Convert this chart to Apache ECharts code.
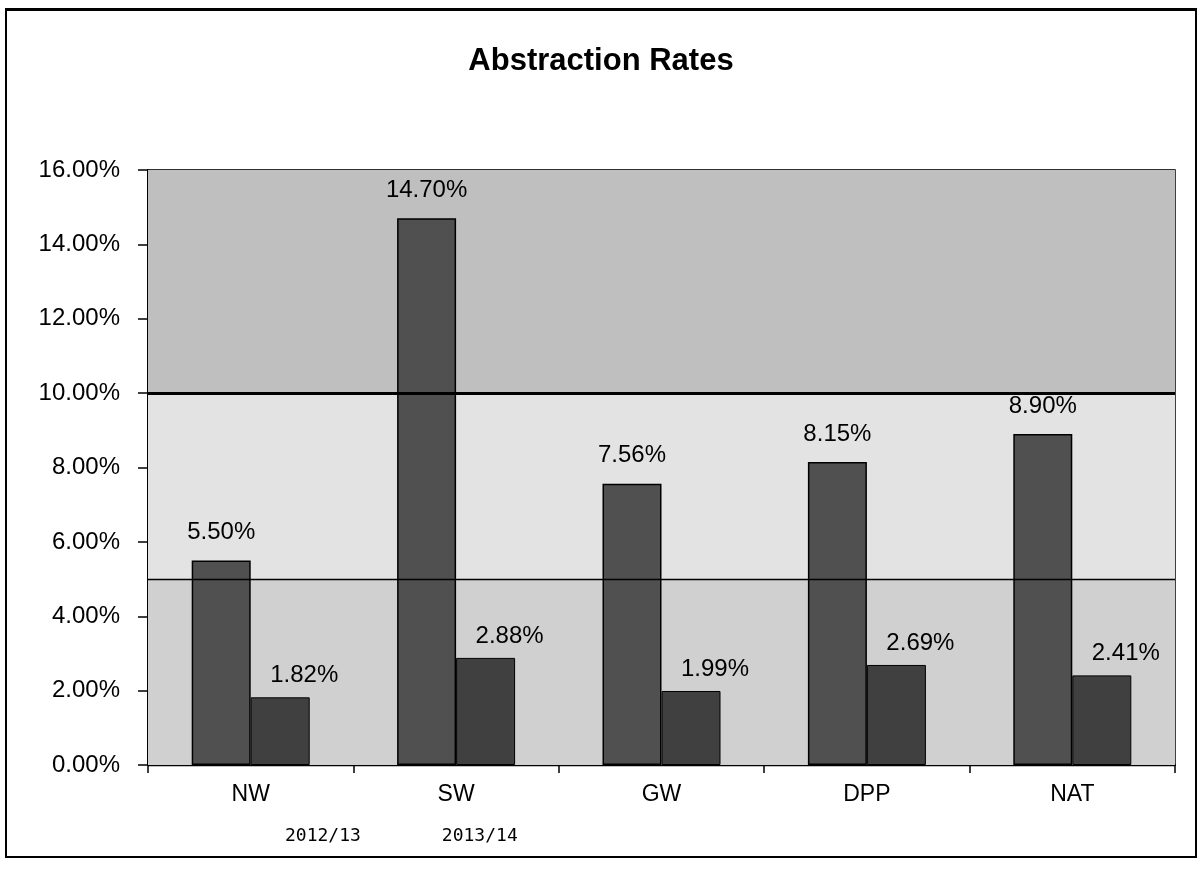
<!DOCTYPE html>
<html>
<head>
<meta charset="utf-8">
<script src="https://cdn.jsdelivr.net/npm/echarts@6/dist/echarts.min.js"></script>
<style>
html,body{margin:0;padding:0;background:#fff;}
#frame{position:absolute;left:5px;top:8px;width:1192px;height:850px;border:2px solid #000;border-top-width:3px;box-sizing:border-box;}
#c{position:absolute;left:0;top:0;width:1202px;height:872px;}
</style>
</head>
<body>
<div id="frame"></div>
<div id="c"></div>
<script>
const categories = ['NW', 'SW', 'GW', 'DPP', 'NAT'];
const seriesNames = ['2012/13', '2013/14'];
const values2012 = [5.50, 14.70, 7.56, 8.15, 8.90];
const values2013 = [1.82, 2.88, 1.99, 2.69, 2.41];
const yTicks = [0, 2, 4, 6, 8, 10, 12, 14, 16];
const bands = [[0, 5], [5, 10], [10, 16]];

const bandColors = ['#d0d0d0', '#e3e3e3', '#bfbfbf'];
const chart = echarts.init(document.getElementById('c'), null, {renderer: 'canvas'});
const fontFam = '"Liberation Sans", Arial, sans-serif';

chart.setOption({
  animation: false,
  backgroundColor: 'transparent',
  title: {
    text: 'Abstraction Rates',
    left: 'center',
    top: 41,
    textStyle: {fontFamily: fontFam, fontSize: 31, fontWeight: 'bold', color: '#000'}
  },
  legend: {
    data: seriesNames,
    left: 274,
    top: 822,
    icon: 'rect',
    itemWidth: 0,
    itemHeight: 0,
    itemGap: 75,
    textStyle: {fontFamily: '"DejaVu Sans Mono", "Liberation Mono", monospace', fontSize: 18, color: '#000'}
  },
  grid: {left: 148, right: 27, top: 170, bottom: 107, show: true, borderColor: '#000', borderWidth: 1.5, backgroundColor: 'transparent'},
  xAxis: {
    type: 'category',
    data: categories,
    axisLine: {lineStyle: {color: '#000', width: 2}},
    axisTick: {show: true, length: 8, lineStyle: {color: '#000', width: 1.5}},
    axisLabel: {margin: 18, fontFamily: fontFam, fontSize: 23, color: '#000'}
  },
  yAxis: {
    type: 'value',
    min: yTicks[0],
    max: yTicks[yTicks.length - 1],
    interval: yTicks[1] - yTicks[0],
    axisLine: {show: true, lineStyle: {color: '#000', width: 2}},
    axisTick: {show: true, length: 10, lineStyle: {color: '#000', width: 1.5}},
    axisLabel: {margin: 28, fontFamily: fontFam, fontSize: 24, color: '#000',
      formatter: v => v.toFixed(2) + '%'},
    splitLine: {show: true, lineStyle: {color: '#000', width: 1.3}}
  },
  series: [
    {
      name: seriesNames[0],
      type: 'bar',
      data: values2012,
      barWidth: 59,
      barGap: '0%',
      itemStyle: {color: '#505050', borderColor: '#000', borderWidth: 1.5},
      label: {show: true, position: 'top', distance: 16, fontFamily: fontFam, fontSize: 24, color: '#000',
        formatter: p => p.value.toFixed(2) + '%'},
      markArea: {
        silent: true,
        data: bands.map((b, i) => [
          {yAxis: b[0], itemStyle: {color: bandColors[i]}},
          {yAxis: b[1]}
        ])
      },
      markLine: {
        silent: true,
        symbol: 'none',
        label: {show: false},
        lineStyle: {color: '#000', width: 3, type: 'solid'},
        data: [{yAxis: bands[1][1]}, {yAxis: bands[0][1], lineStyle: {width: 1.3}}]
      },
      z: 3
    },
    {
      name: seriesNames[1],
      type: 'bar',
      data: values2013,
      barWidth: 59,
      itemStyle: {color: '#404040', borderColor: '#000', borderWidth: 1},
      label: {show: true, position: 'top', distance: 10, offset: [24, 0], fontFamily: fontFam, fontSize: 24, color: '#000',
        formatter: p => p.value.toFixed(2) + '%'},
      z: 3
    }
  ]
});
</script>
</body>
</html>
